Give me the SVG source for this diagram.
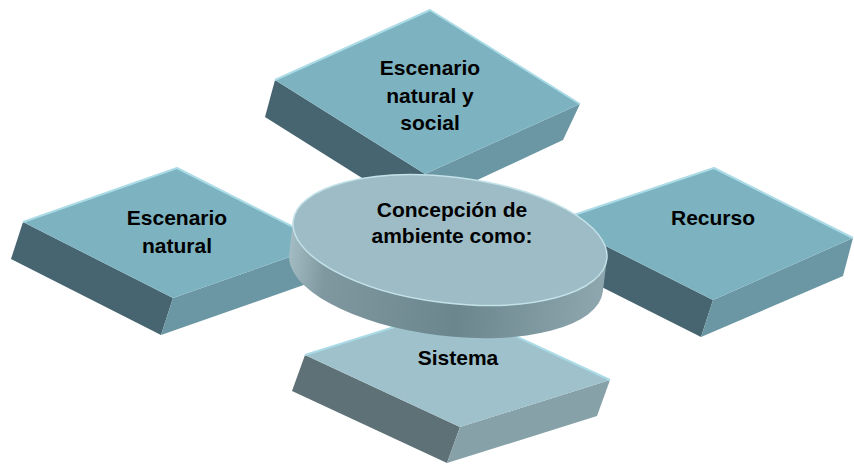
<svg xmlns="http://www.w3.org/2000/svg" width="854" height="465" viewBox="0 0 854 465">
<style>
.top{fill:#7db3c0}
.lf{fill:#476570}
.rf{fill:#6a97a3}
.hl{fill:none;stroke:#aadbe6;stroke-width:2;stroke-linejoin:round}
.top2{fill:#9ec1cb}
.lf2{fill:#5e7177}
.rf2{fill:#86a1a8}
.t{font-family:"Liberation Sans",Arial,sans-serif;font-weight:bold;font-size:21px;fill:#000;text-anchor:middle}
</style>
<defs>
<linearGradient id="side" x1="0" y1="0" x2="1" y2="0">
<stop offset="0" stop-color="#a3bcc3"/>
<stop offset="0.12" stop-color="#7f989f"/>
<stop offset="0.55" stop-color="#6c868d"/>
<stop offset="1" stop-color="#8ea7ae"/>
</linearGradient>
</defs>
<rect width="854" height="465" fill="#fff"/>
<g id="node-top">
<polygon class="lf" points="275,80 425,174 413,210 265,117"/>
<polygon class="rf" points="425,174 580,104 563,140 413,210"/>
<polygon class="top" points="430,10 580,104 425,174 275,80"/>
<polyline class="hl" points="275,80 430,10 580,104"/>
<text class="t" x="430" y="75">Escenario</text>
<text class="t" x="430" y="103">natural y</text>
<text class="t" x="430" y="130">social</text>
</g>
<g id="node-left">
<polygon class="lf" points="23,222 173,298 161,335 11,259"/>
<polygon class="rf" points="173,298 327,244 315,281 161,335"/>
<polygon class="top" points="177,168 327,244 173,298 23,222"/>
<polyline class="hl" points="23,222 177,168 327,244"/>
<text class="t" x="177" y="225">Escenario</text>
<text class="t" x="177" y="253">natural</text>
</g>
<g id="node-right">
<polygon class="lf" points="556,221 713,300 701,337 544,258"/>
<polygon class="rf" points="713,300 853,238 843,276 701,337"/>
<polygon class="top" points="714,168 853,238 713,300 556,221"/>
<polyline class="hl" points="556,221 714,168 853,238"/>
<text class="t" x="713" y="225">Recurso</text>
</g>
<g id="node-bottom">
<polygon class="lf2" points="305,355 460,427 447,463 292,391"/>
<polygon class="rf2" points="460,427 610,380 597,416 447,463"/>
<polygon class="top2" points="455,308 610,380 460,427 305,355"/>
<polyline class="hl" points="305,355 455,308 610,380"/>
<text class="t" x="458" y="365">Sistema</text>
</g>
<g id="node-center">
<g transform="translate(450,240) rotate(7)">
<path d="M -158 0 L -158 33 A 158 63 0 0 0 158 33 L 158 0 A 158 63 0 0 1 -158 0 Z" fill="url(#side)"/>
<ellipse cx="0" cy="0" rx="158" ry="63" fill="#9dbcc6" stroke="#c3e1e8" stroke-width="1.5"/>
</g>
<text class="t" x="452" y="217">Concepción de</text>
<text class="t" x="452" y="243">ambiente como:</text>
</g>
<g id="connectors"/>
</svg>
